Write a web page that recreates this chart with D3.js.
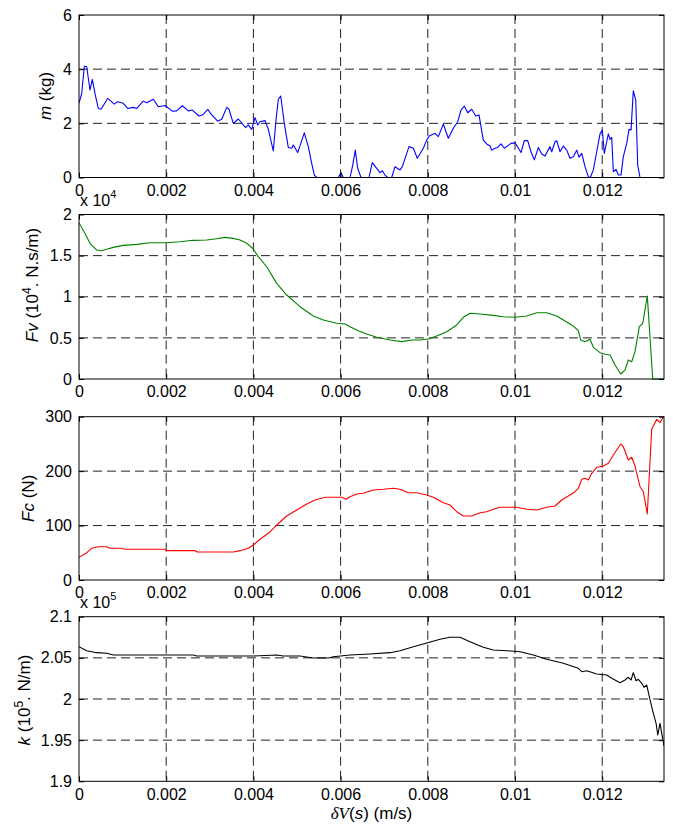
<!DOCTYPE html>
<html><head><meta charset="utf-8">
<script src="https://cdn.jsdelivr.net/npm/d3@7"></script>
<style>
body{margin:0;background:#fff}
svg{display:block}
text{font-family:"Liberation Sans",Arial,Helvetica,sans-serif;fill:#000}
</style>
</head><body>
<svg id="c" width="673" height="828"></svg>
<script>
// x values are in units of 1e-3 m/s
const xMax = 13.417;
const xTickValues = [0, 2, 4, 6, 8, 10, 12];
const xTickLabels = ["0", "0.002", "0.004", "0.006", "0.008", "0.01", "0.012"];

const massTicks = [0, 2, 4, 6];
const massTickLabels = ["0", "2", "4", "6"];
const fvTicks = [0, 0.5, 1, 1.5, 2];
const fvTickLabels = ["0", "0.5", "1", "1.5", "2"];
const fcTicks = [0, 100, 200, 300];
const fcTickLabels = ["0", "100", "200", "300"];
const kTicks = [1.9, 1.95, 2, 2.05, 2.1];
const kTickLabels = ["1.9", "1.95", "2", "2.05", "2.1"];

// m (kg)
const massData = [[0,2.75],[0.062,3.1],[0.122,4.11],[0.177,4.09],[0.252,3.23],[0.305,3.62],[0.367,3.1],[0.443,2.55],[0.505,2.52],[0.658,2.92],[0.810,2.71],[0.888,2.80],[1.016,2.74],[1.117,2.55],[1.245,2.59],[1.323,2.55],[1.475,2.82],[1.553,2.76],[1.704,2.89],[1.819,2.61],[1.972,2.66],[2.140,2.45],[2.241,2.46],[2.369,2.65],[2.507,2.46],[2.599,2.49],[2.752,2.27],[2.851,2.33],[2.952,2.52],[3.028,2.34],[3.181,2.08],[3.273,2.15],[3.388,2.59],[3.440,2.52],[3.539,2.0],[3.654,2.16],[3.823,1.84],[3.883,1.94],[3.961,1.78],[4.037,2.21],[4.099,1.94],[4.151,2.06],[4.266,2.10],[4.342,1.78],[4.456,0.98],[4.518,2.12],[4.571,2.89],[4.626,3.01],[4.709,2.0],[4.800,1.11],[4.878,1.08],[4.915,1.20],[5.016,0.92],[5.167,1.65],[5.259,1.14],[5.337,0.52],[5.397,0.09],[5.452,0],[5.947,0],[6.009,0.18],[6.062,0],[6.216,0],[6.278,0.46],[6.337,1.01],[6.392,0.34],[6.468,0],[6.651,0],[6.727,0.55],[6.828,0.34],[6.904,0.18],[6.956,0.25],[7.018,0.09],[7.080,0],[7.172,0],[7.248,0.40],[7.362,0.28],[7.415,0.40],[7.569,1.14],[7.668,1.08],[7.759,0.71],[7.897,1.08],[7.975,1.38],[8.034,1.53],[8.165,1.63],[8.241,1.51],[8.356,1.97],[8.470,1.45],[8.585,1.82],[8.686,2.06],[8.762,2.49],[8.837,2.64],[8.915,2.39],[9.007,2.52],[9.099,2.27],[9.174,2.31],[9.273,1.38],[9.351,1.24],[9.427,1.16],[9.466,1.01],[9.541,1.08],[9.603,1.11],[9.679,1.24],[9.755,1.08],[9.908,1.26],[10.000,1.28],[10.138,0.92],[10.214,1.36],[10.291,1.36],[10.367,0.95],[10.443,0.65],[10.535,1.11],[10.613,0.87],[10.688,0.79],[10.803,1.14],[10.842,0.95],[10.918,1.32],[10.957,1.36],[11.032,0.95],[11.108,1.16],[11.186,1.01],[11.262,0.71],[11.337,0.77],[11.415,1.01],[11.468,0.75],[11.530,0.89],[11.606,0.40],[11.681,0.03],[11.727,0],[11.796,0.28],[11.874,0.95],[11.950,1.61],[12.002,1.75],[12.048,0.89],[12.103,1.32],[12.140,1.61],[12.179,1.41],[12.218,1.48],[12.255,0.21],[12.317,0.30],[12.369,0.09],[12.431,0.09],[12.484,0.77],[12.562,1.26],[12.615,1.78],[12.661,1.75],[12.713,3.20],[12.769,2.86],[12.814,0.46],[12.867,0],[13.417,0]];

// Fv (1e4 N.s/m)
const fvData = [[0,1.90],[0.138,1.77],[0.252,1.65],[0.406,1.568],[0.521,1.56],[0.635,1.577],[0.787,1.60],[1.016,1.625],[1.323,1.637],[1.628,1.657],[1.972,1.657],[2.317,1.669],[2.622,1.686],[2.929,1.69],[3.158,1.706],[3.349,1.722],[3.539,1.71],[3.693,1.69],[3.847,1.65],[3.984,1.589],[4.112,1.487],[4.305,1.365],[4.534,1.163],[4.764,1.021],[5.069,0.879],[5.374,0.766],[5.603,0.717],[5.911,0.677],[6.101,0.669],[6.216,0.636],[6.406,0.587],[6.599,0.547],[6.828,0.507],[7.133,0.474],[7.401,0.454],[7.631,0.474],[7.821,0.474],[8.012,0.486],[8.204,0.523],[8.433,0.575],[8.663,0.657],[8.814,0.75],[8.968,0.799],[9.197,0.79],[9.502,0.774],[9.732,0.757],[10.000,0.75],[10.268,0.766],[10.498,0.806],[10.727,0.806],[10.957,0.766],[11.108,0.717],[11.337,0.644],[11.452,0.587],[11.507,0.474],[11.606,0.454],[11.720,0.483],[11.796,0.385],[11.950,0.32],[12.064,0.30],[12.179,0.292],[12.294,0.17],[12.424,0.061],[12.523,0.109],[12.599,0.231],[12.677,0.21],[12.752,0.332],[12.851,0.636],[12.929,0.677],[13.034,1.009],[13.158,0],[13.417,0]];

// Fc (N)
const fcData = [[0,41.7],[0.177,50.2],[0.291,58.2],[0.443,61.2],[0.635,61.2],[0.711,58.2],[0.979,58.2],[1.055,56.4],[1.972,56.4],[2.012,53.9],[2.661,53.9],[2.713,51.4],[3.539,51.4],[3.693,53.9],[3.883,58.2],[3.998,64.3],[4.151,74.8],[4.342,85.8],[4.534,101],[4.764,117.6],[4.993,128.6],[5.222,139.6],[5.413,147],[5.567,150.1],[5.642,151.9],[6.025,151.9],[6.124,148.3],[6.216,153],[6.369,158],[6.521,159.3],[6.750,165.3],[6.979,166.6],[7.209,168.5],[7.362,166.6],[7.553,160.4],[7.745,160.4],[7.975,156.2],[8.126,151.9],[8.356,142],[8.509,137.8],[8.663,125.5],[8.814,117.6],[9.007,117.6],[9.197,123.6],[9.351,125.5],[9.502,129.9],[9.656,133.6],[10.039,133.6],[10.268,129.9],[10.498,128.6],[10.727,133.6],[10.918,136],[11.071,147],[11.262,156.2],[11.376,162.2],[11.452,168.5],[11.530,185],[11.606,186.8],[11.681,183.7],[11.759,196],[11.874,207],[12.025,209.4],[12.140,214.4],[12.255,229.7],[12.424,249.9],[12.484,244.9],[12.599,220.5],[12.677,225.4],[12.752,209.4],[12.867,171.4],[12.943,162.2],[13.034,121.3],[13.135,276.9],[13.250,295.2],[13.326,289],[13.402,300]];

// k (1e5 N/m)
const kData = [[0,2.0635],[0.177,2.0587],[0.406,2.0563],[0.635,2.0555],[0.787,2.0535],[1.245,2.0535],[2.012,2.0535],[2.622,2.0535],[2.700,2.0522],[3.539,2.0522],[3.998,2.0522],[4.534,2.0535],[4.686,2.0522],[5.069,2.0522],[5.374,2.0498],[5.718,2.0498],[5.833,2.0514],[6.216,2.0535],[6.674,2.0547],[7.133,2.0563],[7.362,2.0587],[7.668,2.0635],[7.998,2.0684],[8.280,2.0725],[8.509,2.075],[8.739,2.075],[8.968,2.0696],[9.273,2.0628],[9.502,2.0595],[9.810,2.0587],[10.115,2.0575],[10.420,2.0535],[10.727,2.0482],[11.108,2.0434],[11.452,2.0373],[11.530,2.0332],[11.645,2.0344],[11.874,2.0304],[12.103,2.0292],[12.218,2.0252],[12.408,2.0198],[12.523,2.0231],[12.599,2.0264],[12.661,2.0231],[12.713,2.032],[12.775,2.0222],[12.828,2.0239],[12.906,2.0191],[12.959,2.0142],[13.021,2.017],[13.097,1.9988],[13.173,1.9826],[13.235,1.9705],[13.274,1.9563],[13.326,1.9705],[13.365,1.9583],[13.417,1.943]];

const svg = d3.select("#c");
const L = 79, R = 664;
const FS = 16, LFS = 17;
const x = d3.scaleLinear().domain([0, xMax]).range([L, R]);

const panels = [
  {top:15, bottom:177.5, domain:[0,6], ticks:massTicks, labels:massTickLabels, data:massData, color:"#0000ff",
   lab:{x:45.5, y:96, parts:[["m","italic"],[" (kg)",""]]}},
  {top:214.5, bottom:379, domain:[0,2], ticks:fvTicks, labels:fvTickLabels, data:fvData, color:"#008000", exp:"4",
   lab:{x:32.5, y:285, parts:[["Fv","italic"],[" (10",""],["4","sup"],[". N.s/m)",""]]}},
  {top:416.7, bottom:580, domain:[0,300], ticks:fcTicks, labels:fcTickLabels, data:fcData, color:"#ff0000",
   lab:{x:28, y:498.3, parts:[["Fc","italic"],[" (N)",""]]}},
  {top:616.7, bottom:781.3, domain:[1.9,2.1], ticks:kTicks, labels:kTickLabels, data:kData, color:"#000000", exp:"5",
   lab:{x:24.5, y:700, parts:[["k","italic"],[" (10",""],["5","sup"],[". N/m)",""]]}}
];

panels.forEach((p, i) => {
  const y = d3.scaleLinear().domain(p.domain).range([p.bottom, p.top]);
  const g = svg.append("g");

  // grid
  const gridX = xTickValues.filter(v => v > 0);
  g.selectAll(".vg").data(gridX).join("line")
    .attr("x1", d => x(d)).attr("x2", d => x(d))
    .attr("y1", p.top).attr("y2", p.bottom)
    .attr("stroke", "#222").attr("stroke-width", 1).attr("stroke-dasharray", "9,5");
  const gridY = p.ticks.slice(1, -1);
  g.selectAll(".hg").data(gridY).join("line")
    .attr("x1", L).attr("x2", R)
    .attr("y1", d => y(d)).attr("y2", d => y(d))
    .attr("stroke", "#222").attr("stroke-width", 1).attr("stroke-dasharray", "9,5");

  // data line
  const clipId = "clip" + i;
  svg.append("clipPath").attr("id", clipId).append("rect")
    .attr("x", L).attr("y", p.top - 1).attr("width", R - L).attr("height", p.bottom - p.top + 2);
  g.append("path").datum(p.data)
    .attr("clip-path", `url(#${clipId})`)
    .attr("fill", "none").attr("stroke", p.color).attr("stroke-width", 1.1)
    .attr("stroke-linejoin", "round")
    .attr("d", d3.line().x(d => x(d[0])).y(d => y(d[1])));

  // axes
  const ax = (axis) => axis.tickSizeOuter(0);
  g.append("g").attr("transform", `translate(0,${p.bottom})`)
    .call(ax(d3.axisBottom(x).tickValues(xTickValues).tickFormat((d, j) => xTickLabels[j]).tickSize(-5).tickPadding(7)));
  g.append("g").attr("transform", `translate(${L},0)`)
    .call(ax(d3.axisLeft(y).tickValues(p.ticks).tickFormat((d, j) => p.labels[j]).tickSize(-5).tickPadding(7)));
  g.append("g").attr("transform", `translate(0,${p.top})`)
    .call(ax(d3.axisTop(x).tickValues(xTickValues).tickFormat("").tickSize(-5)));
  g.append("g").attr("transform", `translate(${R},0)`)
    .call(ax(d3.axisRight(y).tickValues(p.ticks).tickFormat("").tickSize(-5)));
  g.selectAll(".domain").remove();
  g.selectAll(".tick line").attr("stroke", "#000");
  g.selectAll(".tick text").attr("font-size", FS).attr("font-family", '"Liberation Sans",Arial,sans-serif').attr("fill", "#000");

  // frame
  g.append("rect").attr("x", L).attr("y", p.top).attr("width", R - L).attr("height", p.bottom - p.top)
    .attr("fill", "none").attr("stroke", "#000").attr("stroke-width", 1);

  // exponent label
  if (p.exp) {
    const t = g.append("text").attr("x", 80).attr("y", p.top - 9).attr("font-size", FS);
    t.append("tspan").text("x 10");
    t.append("tspan").attr("font-size", 11).attr("dy", -8).text(p.exp);
  }

  // y label
  const lt = g.append("text")
    .attr("transform", `translate(${p.lab.x},${p.lab.y}) rotate(-90)`)
    .attr("text-anchor", "middle").attr("dy", "0.35em").attr("font-size", LFS);
  let shifted = false;
  p.lab.parts.forEach(([s, st]) => {
    const ts = lt.append("tspan").text(s);
    if (st === "italic") ts.attr("font-style", "italic");
    if (st === "sup") { ts.attr("font-size", 12).attr("dy", -7); shifted = true; }
    else if (shifted) { ts.attr("dy", 7); shifted = false; }
  });
});

// x axis label
const xl = svg.append("text").attr("x", (L + R) / 2).attr("y", 819)
  .attr("text-anchor", "middle").attr("font-size", LFS);
xl.append("tspan").attr("font-family", '"Liberation Serif","DejaVu Serif",serif').attr("font-style", "italic").text("δV");
xl.append("tspan").text("(");
xl.append("tspan").attr("font-style", "italic").text("s");
xl.append("tspan").text(") (m/s)");
</script>
</body></html>
